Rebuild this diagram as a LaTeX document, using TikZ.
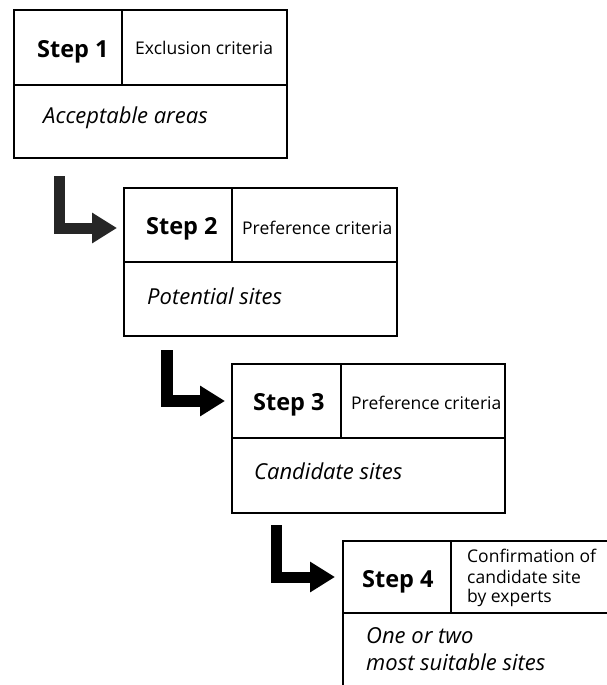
\documentclass[tikz,border=0pt]{standalone}
\usepackage{fontspec}
\setmainfont{Open Sans}
\usetikzlibrary{arrows.meta}
\tikzset{
  frame/.style={draw=black, line width=1.3pt, fill=none},
  steplabel/.style={inner sep=0pt, anchor=base west, font=\fontsize{23.5}{27}\selectfont\bfseries},
  crit/.style={inner sep=0pt, anchor=base west, font=\fontsize{17.5}{20}\selectfont},
  result/.style={inner sep=0pt, anchor=base west, font=\fontsize{22}{27}\selectfont\itshape},
  blockarrow/.style={line width=11pt, line cap=butt, line join=miter,
    -{Triangle[width=29pt,length=25pt]}}
}
\begin{document}
\begin{tikzpicture}[x=1pt,y=-1pt]
\useasboundingbox (0,0) rectangle (607,685);
\clip (0,0) rectangle (607,685);
\fill[white] (0,0) rectangle (607,685);

% Step 1
\draw[frame] (14,10) rectangle (287,158);
\draw[frame] (14,85) -- (287,85);
\draw[frame] (122,10) -- (122,85);
\node[steplabel] (s1) at (37,57) {Step 1};
\node[crit] (c1) at (135,55) {Exclusion criteria};
\node[result] (r1) at (43,123) {Acceptable areas};
\coordinate (b1) at (59.5,176);

% Step 2
\draw[frame] (124,188) rectangle (397,336);
\draw[frame] (124,262) -- (397,262);
\draw[frame] (232,188) -- (232,262);
\node[steplabel] (s2) at (146,234) {Step 2};
\node[crit] (c2) at (242,234) {Preference criteria};
\node[result] (r2) at (147,304) {Potential sites};
\coordinate (w2) at (124,228);
\coordinate (b2) at (167,350);

% Step 3
\draw[frame] (232,364) rectangle (505,513);
\draw[frame] (232,438) -- (505,438);
\draw[frame] (341,364) -- (341,438);
\node[steplabel] (s3) at (253,410) {Step 3};
\node[crit] (c3) at (351,409) {Preference criteria};
\node[result] (r3) at (254,479) {Candidate sites};
\coordinate (w3) at (232,401);
\coordinate (b3) at (276.5,525);

% Step 4
\draw[frame] (343,541) rectangle (620,700);
\draw[frame] (343,613) -- (620,613);
\draw[frame] (451,541) -- (451,613);
\node[steplabel] (s4) at (362,587) {Step 4};
\node[crit] (c4a) at (467,562) {Confirmation of};
\node[crit] (c4b) at (467,583) {candidate site};
\node[crit] (c4c) at (467,602) {by experts};
\node[result] (r4a) at (366,643) {One or two};
\node[result] (r4b) at (366,670) {most suitable sites};
\coordinate (w4) at (343,577);

% Connecting block arrows
\draw[blockarrow, black!85] (b1) |- ([xshift=-7pt]w2);
\draw[blockarrow, line width=12pt] (b2) |- ([xshift=-7pt]w3);
\draw[blockarrow] (b3) |- ([xshift=-8pt]w4);
\end{tikzpicture}
\end{document}
